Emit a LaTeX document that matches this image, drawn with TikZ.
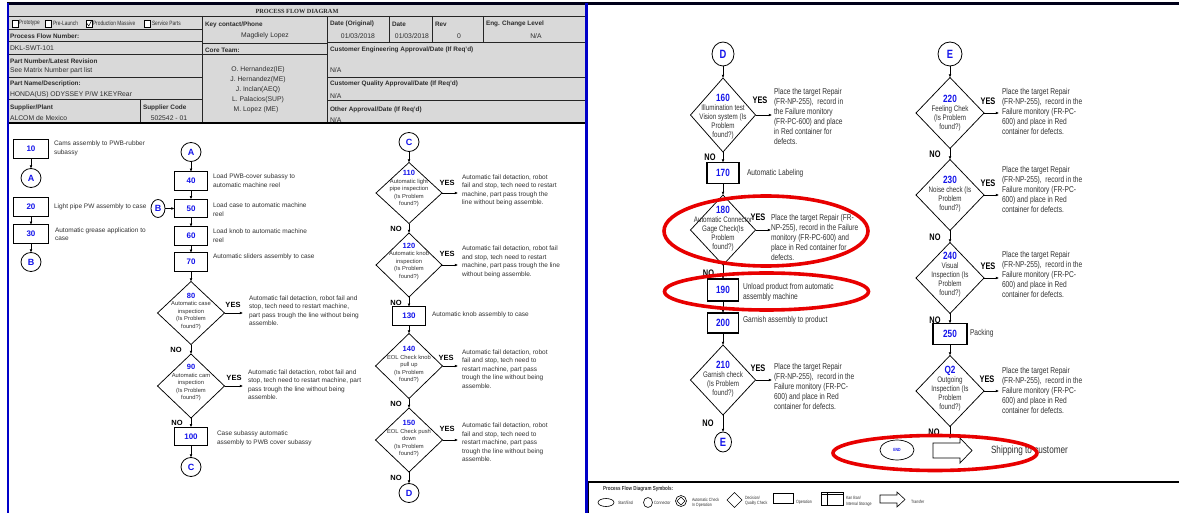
\documentclass[tikz,border=0pt]{standalone}
\usepackage{fontspec}
\setmainfont{Liberation Sans}
\newfontfamily\nsf{Liberation Sans}[FakeStretch=0.78]
\newfontfamily\hser{Liberation Serif}
\usetikzlibrary{shapes.geometric,arrows.meta,calc}
\definecolor{numblue}{RGB}{20,20,235}
\definecolor{hgray}{RGB}{217,217,217}
\definecolor{htext}{RGB}{45,45,45}
\definecolor{txtgray}{RGB}{50,50,50}
\definecolor{bordblue}{RGB}{0,0,200}
\definecolor{ringred}{RGB}{232,0,0}
\newcommand\lnum[1]{{\fontsize{7.5}{7.5}\selectfont\bfseries\color{numblue}#1}}
\newcommand\rnum[1]{{\nsf\fontsize{10.5}{10.5}\selectfont\bfseries\color{numblue}#1}}
\begin{document}
\begin{tikzpicture}[x=1pt,y=-1pt,
  every node/.style={inner sep=0pt,outer sep=0pt},
  hl/.style={line width=0.6pt,black!85},
  ht/.style={anchor=west,font=\fontsize{6.8}{7}\selectfont,text=htext},
  hb/.style={anchor=west,font=\fontsize{6.4}{7}\selectfont\bfseries,text=htext},
  hc/.style={font=\fontsize{6.8}{7}\selectfont,text=htext},
  ck/.style={anchor=west,font=\nsf\fontsize{6.2}{7}\selectfont,text=htext},
  opbox/.style={draw,line width=1.1pt,minimum width=33pt,minimum height=18.5pt,font=\fontsize{8}{8}\selectfont\bfseries,text=numblue},
  ropbox/.style={draw,line width=1.1pt,minimum width=32pt,minimum height=21pt,font=\nsf\fontsize{10.5}{10.5}\selectfont\bfseries,text=numblue},
  conn/.style={ellipse,draw,line width=0.8pt,minimum width=20pt,minimum height=19pt,font=\fontsize{9}{9}\selectfont\bfseries,text=numblue},
  rconn/.style={ellipse,draw,line width=0.8pt,minimum width=22pt,minimum height=24pt,font=\nsf\fontsize{12}{12}\selectfont\bfseries,text=numblue},
  dl/.style={diamond,draw,line width=0.75pt,minimum width=67pt,minimum height=63pt},
  dr/.style={diamond,draw,line width=0.75pt,minimum width=65pt,minimum height=70pt},
  dr2/.style={diamond,draw,line width=0.75pt,minimum width=68pt,minimum height=71pt},
  dtl/.style={align=center,font=\fontsize{5.8}{7.5}\selectfont,text=txtgray},
  dtr/.style={align=center,font=\nsf\fontsize{8}{9}\selectfont,text=txtgray},
  lt/.style={anchor=west,align=left,font=\fontsize{6.5}{8.5}\selectfont,text=txtgray},
  rtx/.style={anchor=west,align=left,font=\nsf\fontsize{8.5}{10}\selectfont,text=txtgray},
  yes/.style={font=\fontsize{7.5}{7.5}\selectfont\bfseries},
  ryes/.style={font=\nsf\fontsize{9.5}{9.5}\selectfont\bfseries},
  arr/.style={-{Latex[length=3.2pt,width=2.8pt]},line width=0.6pt},
  lg/.style={anchor=west,align=left,font=\nsf\fontsize{4.6}{5.5}\selectfont,text=txtgray},
  ring/.style={ringred,line width=3.6pt}
]
\useasboundingbox (0,0) rectangle (1179,513);
\fill[white] (0,0) rectangle (1179,513);

% ---------------- header ----------------
\fill[hgray] (8,5) rectangle (585,123);
\draw[hl] (8,16) -- (585,16);
\draw[hl] (8,29) -- (202,29);
\draw[hl] (8,41) -- (202,41);
\draw[hl] (8,54) -- (202,54);
\draw[hl] (8,77) -- (202,77);
\draw[hl] (8,99) -- (202,99);
\draw[hl] (140,99) -- (140,123);
\draw[hl] (202,16) -- (202,123);
\draw[hl] (327,16) -- (327,123);
\draw[hl] (202,43) -- (327,43);
\draw[hl] (202,54) -- (327,54);
\draw[hl] (389,16) -- (389,42);
\draw[hl] (432,16) -- (432,42);
\draw[hl] (483,16) -- (483,42);
\draw[hl] (327,42) -- (585,42);
\draw[hl] (327,77) -- (585,77);
\draw[hl] (327,100) -- (585,100);
\draw[line width=1.6pt] (8,123) -- (585,123);

\node[font=\hser\fontsize{6.3}{7}\selectfont\bfseries,text=htext] (htitle) at (297,11) {PROCESS FLOW DIAGRAM};
% checkboxes
\draw[fill=white,line width=0.4pt] (12,20) rectangle (18,27);
\draw[fill=white,line width=0.4pt] (45,20) rectangle (51,27);
\draw[fill=white,line width=0.4pt] (86,20) rectangle (92,27);
\draw[line width=0.5pt] (87,23.5) -- (88.8,26) -- (91.5,20.8);
\draw[fill=white,line width=0.4pt] (144,20) rectangle (150,27);
\node[ck] (hc1) at (19,23) {Prototype};
\node[ck] (hc2) at (53,23) {Pre-Launch};
\node[ck] (hc3) at (93,23) {Production Massive};
\node[ck] (hc4) at (152,23) {Service Parts};

\node[hb] (h1) at (10,36) {Process Flow Number:};
\node[ht] (h2) at (10,48.5) {DKL-SWT-101};
\node[hb] (h3) at (10,61) {Part Number/Latest Revision};
\node[ht] (h4) at (10,71) {See Matrix Number part list};
\node[hb] (h5) at (10,84) {Part Name/Description:};
\node[ht] (h6) at (10,95) {HONDA(US) ODYSSEY P/W 1KEYRear};
\node[hb] (h7) at (10,108) {Supplier/Plant};
\node[ht] (h8) at (10,118.5) {ALCOM de Mexico};
\node[hb] (h9) at (143,108) {Supplier Code};
\node[hc] (h10) at (169,118.5) {502542 - 01};

\node[hb] (h11) at (205,25) {Key contact/Phone};
\node[hc] (h12) at (265,36) {Magdiely Lopez};
\node[hb] (h13) at (205,50) {Core Team:};
\node[hc] (h14) at (258,70) {O. Hernandez(IE)};
\node[hc] (h15) at (258,80) {J. Hernandez(ME)};
\node[hc] (h16) at (258,90) {J. Inclan(AEQ)};
\node[hc] (h17) at (258,100) {L. Palacios(SUP)};
\node[hc] (h18) at (256,109.5) {M. Lopez (ME)};

\node[hb] (h19) at (330,24) {Date (Original)};
\node[hc] (h20) at (358,36) {01/03/2018};
\node[hb] (h21) at (392,24) {Date};
\node[hc] (h22) at (412,36) {01/03/2018};
\node[hb] (h23) at (435,24) {Rev};
\node[hc] (h24) at (459,36) {0};
\node[hb] (h25) at (486,24) {Eng. Change Level};
\node[hc] (h26) at (536,36) {N/A};
\node[hb] (h27) at (330,50) {Customer Engineering Approval/Date (If Req'd)};
\node[ht] (h28) at (330,70.5) {N/A};
\node[hb] (h29) at (330,84) {Customer Quality Approval/Date (If Req'd)};
\node[ht] (h30) at (330,96.5) {N/A};
\node[hb] (h31) at (330,110) {Other Approval/Date (If Req'd)};
\node[ht] (h32) at (330,120) {N/A};

% frame lines
\draw[line width=2.4pt,black!90!blue] (7,3.5) -- (1179,3.5);
\draw[bordblue,line width=2pt] (7.5,3) -- (7.5,513);
\draw[bordblue,line width=3pt] (586,3) -- (586,513);
\draw[line width=1pt] (588.5,482) -- (588.5,513);
\draw[line width=2pt] (588,482) -- (1179,482);

% ---------------- left sheet, column 1 ----------------
\node[opbox,minimum width=35pt] (b10) at (31,149) {10};
\node[lt] (l10) at (54,148.5) {Cams assembly to PWB-rubber\\subassy};
\node[conn] (cA1) at (31,178) {A};
\node[opbox,minimum width=35pt] (b20) at (31,207) {20};
\node[lt] (l20) at (54,207) {Light pipe PW assembly to case};
\node[opbox,minimum width=35pt] (b30) at (31,234) {30};
\node[lt] (l30) at (55,234) {Automatic grease application to\\case};
\node[conn] (cB1) at (31,262) {B};
\draw[arr] (b10) -- (cA1);
\draw[arr] (b20) -- (b30);
\draw[arr] (b30) -- (cB1);

% ---------------- column 2 ----------------
\node[conn] (cA2) at (191,152) {A};
\node[opbox] (b40) at (191,181) {40};
\node[lt] (l40) at (213,180.5) {Load PWB-cover subassy to\\automatic machine reel};
\node[opbox] (b50) at (191,208.5) {50};
\node[lt] (l50) at (213,209.5) {Load case to automatic machine\\reel};
\node[conn,minimum width=14pt,minimum height=18pt] (cB2) at (158,208.5) {B};
\node[opbox] (b60) at (191,236) {60};
\node[lt] (l60) at (213,235.5) {Load knob to automatic machine\\reel};
\node[opbox] (b70) at (191,262) {70};
\node[lt] (l70) at (213,257) {Automatic sliders assembly to case};
\node[dl] (d80) at (191,313) {};
\node[dtl] (d80t) at (191,311) {\lnum{80}\\Automatic case\\inspection\\(Is Problem\\found?)};
\node[yes] (y80l) at (233,305) {YES};
\coordinate (y80) at (243,313);
\node[lt] (t80) at (249,310.5) {Automatic fail detaction, robot fail and\\stop, tech need to restart machine,\\part pass trough the line without being\\assemble.};
\node[yes] (n80l) at (176,350) {NO};
\node[dl,minimum height=64pt] (d90) at (191,386) {};
\node[dtl] (d90t) at (191,382.5) {\lnum{90}\\Automatic cam\\inspection\\(Is Problem\\found?)};
\node[yes] (y90l) at (234,378) {YES};
\coordinate (y90) at (243,386);
\node[lt] (t90) at (248,384.5) {Automatic fail detaction, robot fail and\\stop, tech need to restart machine, part\\pass trough the line without being\\assemble.};
\node[yes] (n90l) at (177,423) {NO};
\node[opbox] (b100) at (191,436.5) {100};
\node[lt] (l100) at (217,438.5) {Case subassy automatic\\assembly to PWB cover subassy};
\node[conn] (cC1) at (191,467) {C};
\draw[arr] (cA2) -- (b40);
\draw[arr] (b40) -- (b50);
\draw[arr] (cB2) -- (b50);
\draw[arr] (b50) -- (b60);
\draw[arr] (b60) -- (b70);
\draw[arr] (b70) -- (d80);
\draw[arr] (d80) -- (d90);
\draw[arr] (d90) -- (b100);
\draw[arr] (b100) -- (cC1);
\draw[arr] (d80.east) -- (y80);
\draw[arr] (d90.east) -- (y90);

% ---------------- column 3 ----------------
\node[conn] (cC2) at (409,142) {C};
\node[dl,minimum width=66pt,minimum height=61pt] (d110) at (409,193) {};
\node[dtl] (d110t) at (409,188.5) {\lnum{110}\\Automatic light\\pipe inspection\\(Is Problem\\found?)};
\node[yes] (y110l) at (447,183) {YES};
\coordinate (y110) at (458,193);
\node[lt] (t110) at (462,190.5) {Automatic fail detaction, robot\\fail and stop, tech need to restart\\machine, part pass trough the\\line without being assemble.};
\node[yes] (n110l) at (396,229) {NO};
\node[dl,minimum width=66pt,minimum height=64pt] (d120) at (409,265) {};
\node[dtl] (d120t) at (409,261) {\lnum{120}\\Automatic knob\\inspection\\(Is Problem\\found?)};
\node[yes] (y120l) at (447,254) {YES};
\coordinate (y120) at (458,265);
\node[lt] (t120) at (462,262) {Automatic fail detaction, robot fail\\and stop, tech need to restart\\machine, part pass trough the line\\without being assemble.};
\node[yes] (n120l) at (396,302.5) {NO};
\node[opbox] (b130) at (409,316) {130};
\node[lt] (l130) at (432,315) {Automatic knob assembly to case};
\node[dl,minimum height=65pt] (d140) at (409,366) {};
\node[dtl] (d140t) at (409,364.5) {\lnum{140}\\EOL Check knob\\pull up\\(Is Problem\\found?)};
\node[yes] (y140l) at (446,358) {YES};
\coordinate (y140) at (458,366);
\node[lt] (t140) at (462,369) {Automatic fail detaction, robot\\fail and stop, tech need to\\restart machine, part pass\\trough the line without being\\assemble.};
\node[yes] (n140l) at (396,403.5) {NO};
\node[dl,minimum height=64pt] (d150) at (409,440) {};
\node[dtl] (d150t) at (409,438.5) {\lnum{150}\\EOL Check push\\down\\(Is Problem\\found?)};
\node[yes] (y150l) at (447,429) {YES};
\coordinate (y150) at (458,440);
\node[lt] (t150) at (462,442.5) {Automatic fail detaction, robot\\fail and stop, tech need to\\restart machine, part pass\\trough the line without being\\assemble.};
\node[yes] (n150l) at (396,477.5) {NO};
\node[conn] (cD1) at (409,493) {D};
\draw[arr] (cC2) -- (d110);
\draw[arr] (d110) -- (d120);
\draw[arr] (d120) -- (b130);
\draw[arr] (b130) -- (d140);
\draw[arr] (d140) -- (d150);
\draw[arr] (d150) -- (cD1);
\draw[arr] (d110.east) -- (y110);
\draw[arr] (d120.east) -- (y120);
\draw[arr] (d140.east) -- (y140);
\draw[arr] (d150.east) -- (y150);

% ---------------- right sheet, column 1 ----------------
\node[rconn] (cD2) at (723,54) {D};
\node[dr,minimum height=74pt] (d160) at (723,115) {};
\node[dtr] (d160t) at (723,116.5) {\rnum{160}\\Illumination test\\Vision system (Is\\Problem\\found?)};
\node[ryes] (y160l) at (760,100) {YES};
\coordinate (y160) at (772,115);
\node[rtx] (t160) at (774,116.5) {Place the target Repair\\(FR-NP-255),\ \ record in\\the Failure monitory\\(FR-PC-600) and place\\in Red container for\\defects.};
\node[ryes] (n160l) at (710,157) {NO};
\node[ropbox] (b170) at (723,173) {170};
\node[rtx] (l170) at (747,173) {Automatic Labeling};
\node[dr] (d180) at (723,230) {};
\node[dtr] (d180t) at (723,228.5) {\rnum{180}\\Automatic Connector\\Gage Check(Is\\Problem\\found?)};
\node[ryes] (y180l) at (758,217) {YES};
\coordinate (y180) at (771,230);
\node[rtx] (t180) at (771,237) {Place the target Repair (FR-\\NP-255), record in the Failure\\monitory (FR-PC-600) and\\place in Red container for\\defects.};
\node[ryes] (n180l) at (708.5,273) {NO};
\node[ropbox,minimum width=31pt,minimum height=22pt] (b190) at (723,290) {190};
\node[rtx] (l190) at (743,292) {Unload product from automatic\\assembly machine};
\node[ropbox,minimum width=31pt,minimum height=20pt] (b200) at (723,323) {200};
\node[rtx] (l200) at (743,320) {Garnish assembly to product};
\node[dr] (d210) at (723,380) {};
\node[dtr] (d210t) at (723,379.5) {\rnum{210}\\Garnish check\\(Is Problem\\found?)};
\node[ryes] (y210l) at (758,368) {YES};
\coordinate (y210) at (772,380);
\node[rtx] (t210) at (774,386) {Place the target Repair\\(FR-NP-255),\ \ record in the\\Failure monitory (FR-PC-\\600) and place in Red\\container for defects.};
\node[ryes] (n210l) at (708,423) {NO};
\node[rconn,minimum width=17pt,minimum height=20pt] (cE1) at (723,442) {E};
\draw[arr] (cD2) -- (d160);
\draw[arr] (d160) -- (b170);
\draw[arr] (b170) -- (d180);
\draw[arr] (d180) -- (b190);
\draw[arr] (b190) -- (b200);
\draw[arr] (b200) -- (d210);
\draw[arr] (d210) -- (cE1);
\draw[arr] (d160.east) -- (y160);
\draw[arr] (d180.east) -- (y180);
\draw[arr] (d210.east) -- (y210);

% ---------------- right sheet, column 2 ----------------
\node[rconn,minimum width=24pt] (cE2) at (950,54) {E};
\node[dr2] (d220) at (950,113) {};
\node[dtr] (d220t) at (950,113.5) {\rnum{220}\\Feeling Chek\\(Is Problem\\found?)};
\node[ryes] (y220l) at (988,101) {YES};
\coordinate (y220) at (999,113);
\node[rtx] (t220) at (1002,111.5) {Place the target Repair\\(FR-NP-255),\ \ record in the\\Failure monitory (FR-PC-\\600) and place in Red\\container for defects.};
\node[ryes] (n220l) at (935,154) {NO};
\node[dr2] (d230) at (950,195) {};
\node[dtr] (d230t) at (950,194) {\rnum{230}\\Noise check (Is\\Problem\\found?)};
\node[ryes] (y230l) at (988,183) {YES};
\coordinate (y230) at (999,195);
\node[rtx] (t230) at (1002,189.5) {Place the target Repair\\(FR-NP-255),\ \ record in the\\Failure monitory (FR-PC-\\600) and place in Red\\container for defects.};
\node[ryes] (n230l) at (935,237) {NO};
\node[dr2] (d240) at (950,278) {};
\node[dtr] (d240t) at (950,274.5) {\rnum{240}\\Visual\\Inspection (Is\\Problem\\found?)};
\node[ryes] (y240l) at (988,266) {YES};
\coordinate (y240) at (999,278);
\node[rtx] (t240) at (1002,274.5) {Place the target Repair\\(FR-NP-255),\ \ record in the\\Failure monitory (FR-PC-\\600) and place in Red\\container for defects.};
\node[ryes] (n240l) at (935,320) {NO};
\node[ropbox,minimum width=34pt] (b250) at (950,334) {250};
\node[rtx] (l250) at (970,333) {Packing};
\node[dr2] (dQ2) at (950,391) {};
\node[dtr] (dQ2t) at (950,389) {\rnum{Q2}\\Outgoing\\Inspection (Is\\Problem\\found?)};
\node[ryes] (yQ2l) at (987,379) {YES};
\coordinate (yQ2) at (999,391);
\node[rtx] (tQ2) at (1002,390.5) {Place the target Repair\\(FR-NP-255),\ \ record in the\\Failure monitory (FR-PC-\\600) and place in Red\\container for defects.};
\node[ryes] (nQ2l) at (934,432) {NO};
\coordinate (q2end) at (950,439);
\draw[arr] (cE2) -- (d220);
\draw[arr] (d220) -- (d230);
\draw[arr] (d230) -- (d240);
\draw[arr] (d240) -- (b250);
\draw[arr] (b250) -- (dQ2);
\draw[arr] (dQ2) -- (q2end);
\draw[arr] (d220.east) -- (y220);
\draw[arr] (d230.east) -- (y230);
\draw[arr] (d240.east) -- (y240);
\draw[arr] (dQ2.east) -- (yQ2);

% end + transfer
\node[ellipse,draw,line width=0.7pt,minimum width=34pt,minimum height=20pt,font=\nsf\fontsize{4.5}{5}\selectfont\bfseries,text=numblue] (endn) at (897,450) {END};
\draw[line width=0.7pt] (933,443) -- (960,443) -- (960,438) -- (972,450.5) -- (960,463) -- (960,458) -- (933,458) -- cycle;
\node[anchor=west,font=\nsf\fontsize{10.5}{11}\selectfont,text=txtgray] (ship) at (991,451) {Shipping to customer};

% red rings
\draw[ring] (766,231) ellipse [x radius=102pt,y radius=35pt];
\draw[ring] (766.5,291.5) ellipse [x radius=102pt,y radius=18.5pt];
\draw[ring] (935,453) ellipse [x radius=102pt,y radius=17.5pt];

% ---------------- legend ----------------
\node[anchor=west,font=\nsf\fontsize{5.8}{6}\selectfont\bfseries,text=txtgray] (lgt) at (603,489) {Process Flow Diagram Symbols:};
\node[ellipse,draw,line width=0.6pt,minimum width=16pt,minimum height=8pt] (lg1) at (606,502.5) {};
\node[lg] (lg1t) at (618,503) {Start/End};
\node[ellipse,draw,line width=0.6pt,minimum width=9pt,minimum height=10pt] (lg2) at (648,502.5) {};
\node[lg] (lg2t) at (654,503) {Connector};
\node[circle,draw,line width=0.6pt,minimum size=11pt] (lg3) at (681,501) {};
\node[diamond,draw,line width=0.5pt,minimum size=8pt] (lg3b) at (681,501) {};
\node[lg] (lg3t) at (692,503) {Automatic Check\\In Operation};
\node[diamond,draw,line width=0.6pt,minimum width=15pt,minimum height=15pt] (lg4) at (734.5,500) {};
\node[lg] (lg4t) at (745,501) {Decision/\\Quality Check};
\node[draw,line width=0.7pt,minimum width=20pt,minimum height=10pt] (lg5) at (783,498) {};
\node[lg] (lg5t) at (796,502) {Operation};
\node[draw,line width=0.7pt,minimum width=22pt,minimum height=13pt] (lg6) at (832,498.5) {};
\draw[line width=0.6pt] (827,492) -- (827,505);
\draw[line width=0.6pt] (821,494.5) -- (843,494.5);
\node[lg] (lg6t) at (846,501.5) {Kan Ban/\\Internal Storage};
\draw[line width=0.6pt] (880,495) -- (897,495) -- (897,492) -- (905,499.5) -- (897,507) -- (897,503) -- (880,503) -- cycle;
\node[lg] (lg7t) at (911,502) {Transfer};
\end{tikzpicture}
\end{document}
